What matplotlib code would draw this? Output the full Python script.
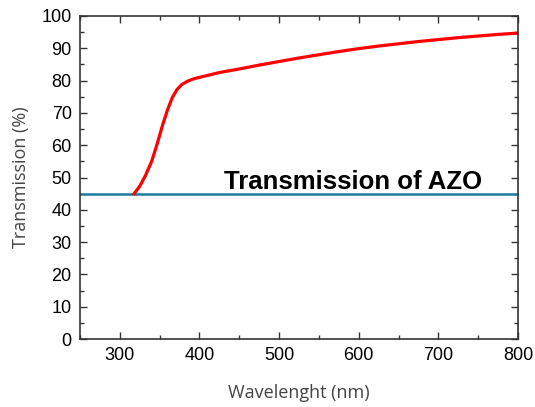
import matplotlib.pyplot as plt
import numpy as np
from matplotlib.ticker import MultipleLocator

# transmission spectrum
wavelength = [318, 325, 332, 340, 347, 354, 360, 366, 372, 378, 385, 392, 400, 425, 450,
              475, 500, 525, 550, 575, 600, 625, 650, 675, 700, 725, 750, 775, 800]
transmission = [45, 47.3, 50.5, 55, 60.5, 66.5, 71, 74.8, 77.3, 78.8, 79.8, 80.5, 81, 82.5, 83.6,
                84.8, 85.9, 87.0, 88.0, 89.0, 89.9, 90.7, 91.4, 92.1, 92.7, 93.3, 93.8, 94.3, 94.7]
azo_level = 44.8
label_text = "Transmission of AZO"

fig = plt.figure(figsize=(5.35, 4.07), dpi=100)
ax = fig.add_axes([80 / 535, 1 - 339 / 407, 438 / 535, 323 / 407])

ax.axhline(azo_level, color='#1a7ca0', lw=1.8)
ax.plot(wavelength, transmission, color='#ff0000', lw=2.3, solid_joinstyle='round')

ax.text(431, 46.4, label_text, fontsize=18.5, fontweight='bold', va='baseline',
        family='Liberation Sans', color='black')

ax.set_xlim(250, 800)
ax.set_ylim(0, 100)
ax.xaxis.set_major_locator(MultipleLocator(100))
ax.xaxis.set_minor_locator(MultipleLocator(50))
ax.yaxis.set_major_locator(MultipleLocator(10))
ax.yaxis.set_minor_locator(MultipleLocator(5))
ax.tick_params(which='both', direction='in', top=True, right=True, color='#333333')
ax.tick_params(which='major', length=5, width=1)
ax.tick_params(which='minor', length=3, width=1)
ax.tick_params(labelsize=13, pad=6)
for lab in ax.get_xticklabels() + ax.get_yticklabels():
    lab.set_family('Liberation Sans')
for sp in ax.spines.values():
    sp.set_linewidth(1.2)
    sp.set_color('#333333')

ax.set_xlabel('Wavelenght (nm)', family='Open Sans', fontsize=13, color='#444444', labelpad=14)
ax.set_ylabel('Transmission (%)', family='Open Sans', fontsize=13, color='#444444', labelpad=8)

fig.savefig('out.png', dpi=100)
